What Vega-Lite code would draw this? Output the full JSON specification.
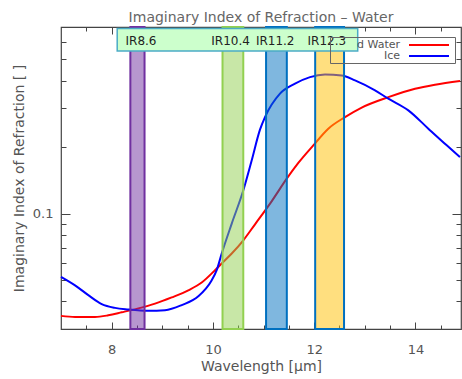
{
  "$schema": "https://vega.github.io/schema/vega-lite/v6.json",
  "width": 400,
  "height": 302,
  "autosize": {"type": "none"},
  "padding": {"left": 61, "top": 27, "right": 1, "bottom": 50},
  "background": "white",
  "title": {"text": "Imaginary Index of Refraction – Water", "font": "DejaVu Sans", "fontSize": 14, "fontWeight": "normal", "color": "#666666", "offset": 1},
  "config": {
    "view": {"stroke": "#444444", "strokeWidth": 1.2},
    "axis": {"domain": false, "grid": false, "tickColor": "#444444", "tickWidth": 1, "labelFont": "DejaVu Sans", "labelFontSize": 13, "labelColor": "#555555", "titleFont": "DejaVu Sans", "titleFontSize": 14, "titleFontWeight": "normal", "titleColor": "#555555"}
  },
  "datasets": {
    "curves": [
      {"wl": 7.0, "k": 0.0344, "material": "Liquid Water"},
      {"wl": 7.277, "k": 0.034, "material": "Liquid Water"},
      {"wl": 7.672, "k": 0.034, "material": "Liquid Water"},
      {"wl": 7.934, "k": 0.0346, "material": "Liquid Water"},
      {"wl": 8.199, "k": 0.0357, "material": "Liquid Water"},
      {"wl": 8.527, "k": 0.0372, "material": "Liquid Water"},
      {"wl": 8.857, "k": 0.0391, "material": "Liquid Water"},
      {"wl": 9.186, "k": 0.0417, "material": "Liquid Water"},
      {"wl": 9.514, "k": 0.0449, "material": "Liquid Water"},
      {"wl": 9.779, "k": 0.0487, "material": "Liquid Water"},
      {"wl": 10.042, "k": 0.0554, "material": "Liquid Water"},
      {"wl": 10.174, "k": 0.0594, "material": "Liquid Water"},
      {"wl": 10.372, "k": 0.0659, "material": "Liquid Water"},
      {"wl": 10.601, "k": 0.0757, "material": "Liquid Water"},
      {"wl": 10.832, "k": 0.0894, "material": "Liquid Water"},
      {"wl": 11.16, "k": 0.1136, "material": "Liquid Water"},
      {"wl": 11.458, "k": 0.1439, "material": "Liquid Water"},
      {"wl": 11.687, "k": 0.1696, "material": "Liquid Water"},
      {"wl": 11.983, "k": 0.2037, "material": "Liquid Water"},
      {"wl": 12.279, "k": 0.2424, "material": "Liquid Water"},
      {"wl": 12.609, "k": 0.2735, "material": "Liquid Water"},
      {"wl": 12.939, "k": 0.3022, "material": "Liquid Water"},
      {"wl": 13.465, "k": 0.3368, "material": "Liquid Water"},
      {"wl": 13.992, "k": 0.3678, "material": "Liquid Water"},
      {"wl": 14.387, "k": 0.3836, "material": "Liquid Water"},
      {"wl": 14.881, "k": 0.3986, "material": "Liquid Water"},
      {"wl": 7.0, "k": 0.0517, "material": "Ice"},
      {"wl": 7.277, "k": 0.0473, "material": "Ice"},
      {"wl": 7.539, "k": 0.0427, "material": "Ice"},
      {"wl": 7.804, "k": 0.0389, "material": "Ice"},
      {"wl": 8.067, "k": 0.0374, "material": "Ice"},
      {"wl": 8.329, "k": 0.0368, "material": "Ice"},
      {"wl": 8.724, "k": 0.0363, "material": "Ice"},
      {"wl": 9.054, "k": 0.0365, "material": "Ice"},
      {"wl": 9.384, "k": 0.0385, "material": "Ice"},
      {"wl": 9.712, "k": 0.0422, "material": "Ice"},
      {"wl": 9.977, "k": 0.0499, "material": "Ice"},
      {"wl": 10.075, "k": 0.0554, "material": "Ice"},
      {"wl": 10.174, "k": 0.0659, "material": "Ice"},
      {"wl": 10.372, "k": 0.0901, "material": "Ice"},
      {"wl": 10.601, "k": 0.1275, "material": "Ice"},
      {"wl": 10.767, "k": 0.1743, "material": "Ice"},
      {"wl": 10.93, "k": 0.24, "material": "Ice"},
      {"wl": 11.029, "k": 0.2735, "material": "Ice"},
      {"wl": 11.325, "k": 0.3493, "material": "Ice"},
      {"wl": 11.622, "k": 0.3874, "material": "Ice"},
      {"wl": 11.918, "k": 0.4149, "material": "Ice"},
      {"wl": 12.214, "k": 0.4262, "material": "Ice"},
      {"wl": 12.544, "k": 0.4222, "material": "Ice"},
      {"wl": 12.807, "k": 0.4009, "material": "Ice"},
      {"wl": 13.202, "k": 0.3614, "material": "Ice"},
      {"wl": 13.465, "k": 0.3315, "material": "Ice"},
      {"wl": 13.86, "k": 0.2935, "material": "Ice"},
      {"wl": 14.255, "k": 0.2424, "material": "Ice"},
      {"wl": 14.618, "k": 0.2037, "material": "Ice"},
      {"wl": 14.881, "k": 0.1802, "material": "Ice"}
    ],
    "bands": [
      {"band": "IR8.6", "start": 8.37, "end": 8.65, "labelAt": 8.58, "labelK": 0.602},
      {"band": "IR10.4", "start": 10.19, "end": 10.6, "labelAt": 10.35, "labelK": 0.602},
      {"band": "IR11.2", "start": 11.05, "end": 11.46, "labelAt": 11.23, "labelK": 0.602},
      {"band": "IR12.3", "start": 12.02, "end": 12.59, "labelAt": 12.25, "labelK": 0.602}
    ],
    "box": [{"x1": 8.11, "x2": 12.86, "k1": 0.545, "k2": 0.69}]
  },
  "resolve": {"axis": {"x": "independent", "y": "independent"}},
  "layer": [
    {
      "data": {"name": "curves"},
      "mark": {"type": "line", "strokeWidth": 2, "interpolate": "monotone"},
      "encoding": {
        "x": {"field": "wl", "type": "quantitative", "scale": {"domain": [7, 14.9], "nice": false, "zero": false},
          "axis": {"orient": "bottom", "values": [7.5, 8, 8.5, 9, 9.5, 10, 10.5, 11, 11.5, 12, 12.5, 13, 13.5, 14, 14.5],
            "labelExpr": "datum.value % 2 == 0 ? '' + datum.value : ''",
            "tickSize": {"condition": {"test": "datum.value % 2 == 0", "value": -7}, "value": -4},
            "labelPadding": 21, "title": "Wavelength [μm]", "titlePadding": 3}},
        "y": {"field": "k", "type": "quantitative", "scale": {"type": "log", "domain": [0.03, 0.7], "nice": false},
          "axis": {"orient": "left", "values": [0.04, 0.05, 0.06, 0.07, 0.08, 0.09, 0.1, 0.2, 0.3, 0.4, 0.5, 0.6],
            "labelExpr": "datum.value == 0.1 ? '0.1' : ''",
            "tickSize": {"condition": {"test": "datum.value == 0.1", "value": -9}, "value": -5},
            "labelPadding": 17, "title": "Imaginary Index of Refraction [ ]", "titlePadding": 6}},
        "color": {"field": "material", "type": "nominal",
          "scale": {"domain": ["Liquid Water", "Ice"], "range": ["#ff0000", "#0000ff"]},
          "legend": {"orient": "none", "legendX": 269, "legendY": 10, "title": null, "symbolType": "M-4,0H4", "symbolSize": 100, "symbolStrokeWidth": 2, "symbolFillColor": "transparent",
            "labelAlign": "right", "labelOffset": -35, "symbolOffset": 91, "labelFont": "DejaVu Sans", "labelFontSize": 11, "labelColor": "#555555",
            "strokeColor": "#666666", "padding": 2, "rowPadding": 0, "labelLimit": 45,
            "encode": {"labels": {"update": {"dir": {"value": "rtl"}, "ellipsis": {"value": "\u200b"}}}}}}
      }
    },
    {
      "data": {"name": "bands"},
      "mark": {"type": "rect", "fillOpacity": 0.5, "strokeWidth": 2},
      "encoding": {
        "x": {"field": "start", "type": "quantitative", "scale": {"domain": [7, 14.9], "nice": false, "zero": false},
          "axis": {"orient": "top", "values": [7.5, 8, 8.5, 9, 9.5, 10, 10.5, 11, 11.5, 12, 12.5, 13, 13.5, 14, 14.5],
            "labels": false, "title": null,
            "tickSize": {"condition": {"test": "datum.value % 2 == 0", "value": -7}, "value": -4}}},
        "x2": {"field": "end"},
        "fill": {"field": "band", "type": "nominal", "scale": {"domain": ["IR8.6", "IR10.4", "IR11.2", "IR12.3"], "range": ["#7030a0", "#92d050", "#0070c0", "#ffc000"]}, "legend": null},
        "stroke": {"field": "band", "type": "nominal", "scale": {"domain": ["IR8.6", "IR10.4", "IR11.2", "IR12.3"], "range": ["#7030a0", "#92d050", "#0070c0", "#0070c0"]}, "legend": null}
      }
    },
    {
      "data": {"name": "box"},
      "mark": {"type": "rect", "fill": "#ccffcc", "stroke": "#4bacc6", "strokeWidth": 1.5},
      "encoding": {
        "x": {"field": "x1", "type": "quantitative", "scale": {"domain": [7, 14.9], "nice": false, "zero": false}, "axis": null},
        "x2": {"field": "x2"},
        "y": {"field": "k1", "type": "quantitative", "scale": {"type": "log", "domain": [0.03, 0.7], "nice": false},
          "axis": {"orient": "right", "values": [0.04, 0.05, 0.06, 0.07, 0.08, 0.09, 0.1, 0.2, 0.3, 0.4, 0.5, 0.6],
            "labels": false, "title": null,
            "tickSize": {"condition": {"test": "datum.value == 0.1", "value": -9}, "value": -5}}},
        "y2": {"field": "k2"}
      }
    },
    {
      "data": {"name": "bands"},
      "mark": {"type": "text", "font": "DejaVu Sans", "fontSize": 12, "color": "#222222", "align": "center", "baseline": "middle"},
      "encoding": {
        "x": {"field": "labelAt", "type": "quantitative", "scale": {"domain": [7, 14.9], "nice": false, "zero": false}, "axis": null},
        "y": {"field": "labelK", "type": "quantitative", "scale": {"type": "log", "domain": [0.03, 0.7], "nice": false}, "axis": null},
        "text": {"field": "band", "type": "nominal"}
      }
    }
  ]
}
